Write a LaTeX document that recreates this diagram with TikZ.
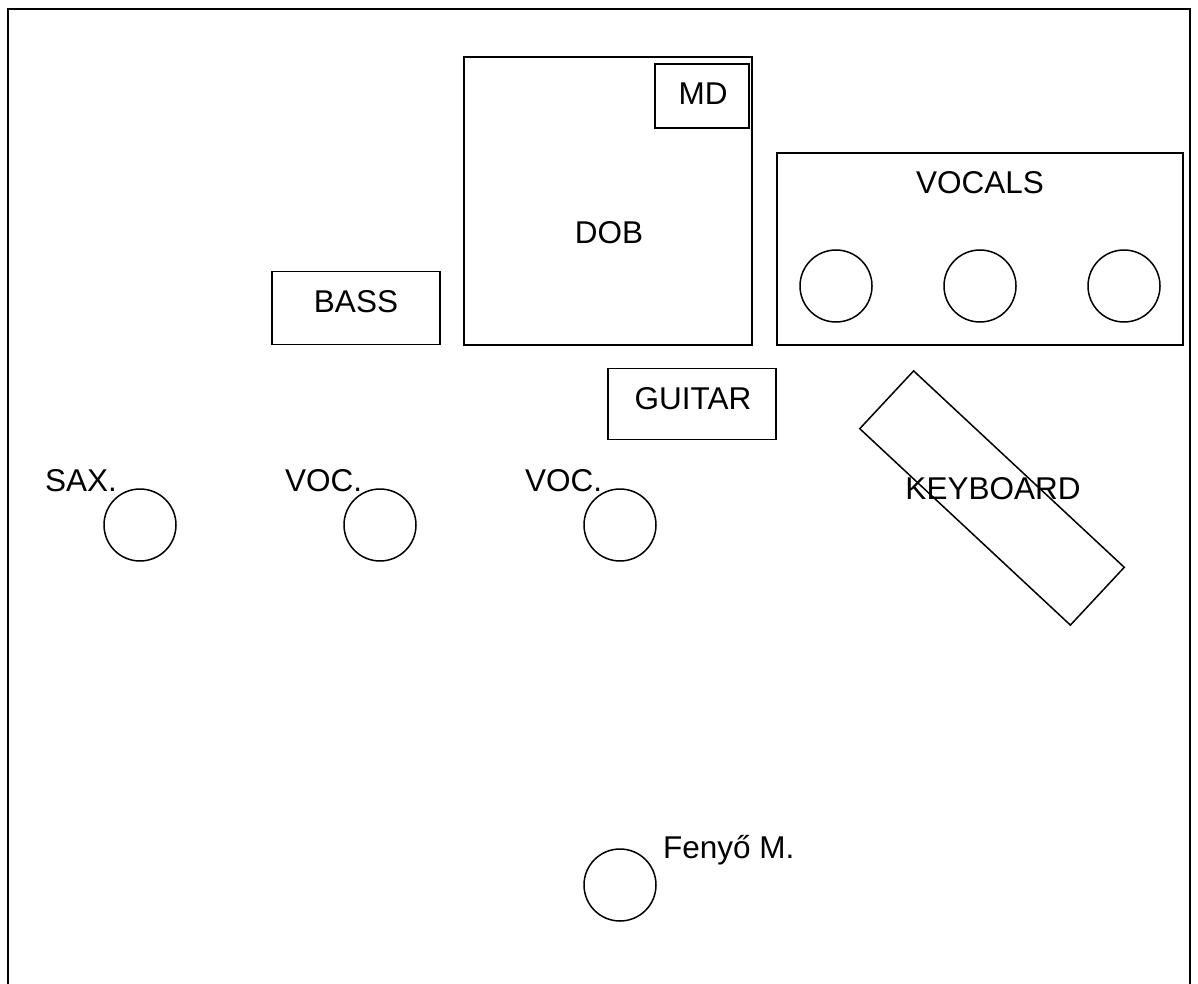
\documentclass[tikz,border=0pt]{standalone}
\usepackage{fontspec}
\setmainfont{Liberation Sans}
\usetikzlibrary{positioning}

\begin{document}
\begin{tikzpicture}[
  x=1pt, y=-1pt,
  frame/.style={draw, line width=2.4pt},
  box/.style={draw, rectangle, line width=1.5pt, inner sep=0pt},
  seat/.style={draw, circle, line width=1.5pt, minimum size=72pt, inner sep=0pt},
  lbl/.style={font=\fontsize{31.5}{36}\selectfont, inner sep=0pt}
]
\useasboundingbox (0,0) rectangle (1198,984);

% Stage frame (open at the bottom)
\coordinate (FL) at (8,990);
\coordinate (FR) at (1190,990);
\draw[frame] (FL) |- (1190,9) -- (FR);

% Drums
\node[box, minimum width=288pt, minimum height=288pt] (dob) at (608,201) {};
\node[lbl] (dobL) at (609,233) {DOB};
\node[box, minimum width=94pt, minimum height=64pt] (md) at (702,96) {};
\node[lbl] (mdL) at (703,94) {MD};

% Vocals riser
\node[box, minimum width=406pt, minimum height=192pt] (vocals) at (980,249) {};
\node[lbl] (vocalsL) at (980,183) {VOCALS};
\node[seat] (v1) at (836,286) {};
\node[seat] (v2) at (980,286) {};
\node[seat] (v3) at (1124,286) {};

% Bass and guitar
\node[box, minimum width=168pt, minimum height=73pt] (bass) at (356,308) {};
\node[lbl] (bassL) at (356,302) {BASS};
\node[box, minimum width=168pt, minimum height=71pt] (guitar) at (692,404) {};
\node[lbl] (guitarL) at (693,399) {GUITAR};

% Keyboard
\node[box, minimum width=288pt, minimum height=79pt, rotate=-43] (kbd) at (992,498) {};
\node[lbl] (kbdL) at (993,489) {KEYBOARD};

% Front line
\node[seat] (sax) at (140,525) {};
\node[seat] (voc1) at (380,525) {};
\node[seat] (voc2) at (620,525) {};
\node[lbl, anchor=base west] (saxL) at (45,491) {SAX.};
\node[lbl, anchor=base west] (voc1L) at (285,491) {VOC.};
\node[lbl, anchor=base west] (voc2L) at (525,491) {VOC.};

% Lead singer
\node[seat] (lead) at (620,885) {};
\node[lbl, anchor=base west] (leadL) at (663,858) {Fenyő M.};
\end{tikzpicture}
\end{document}
